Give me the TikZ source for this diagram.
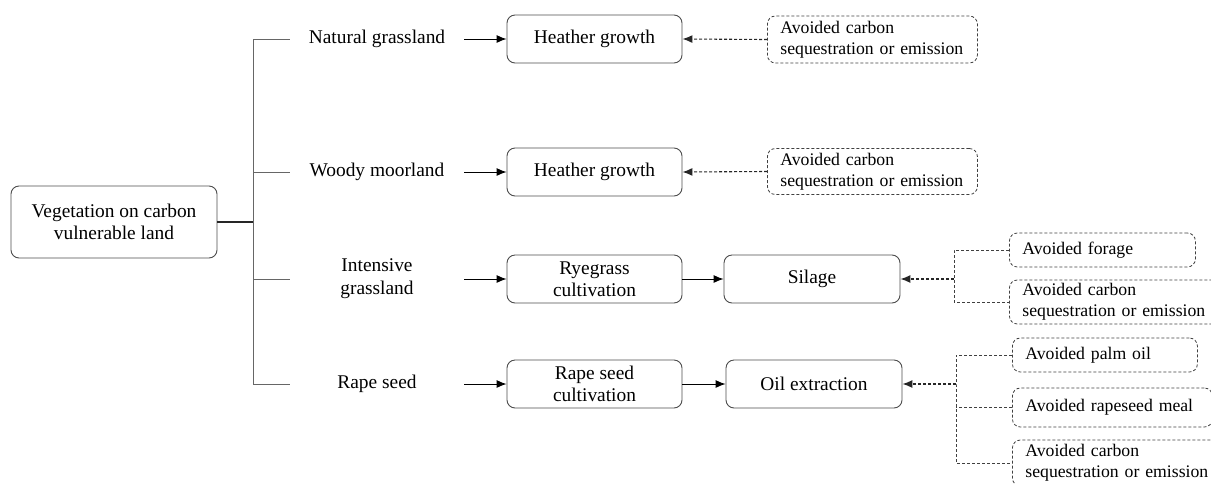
\documentclass[tikz,border=0pt]{standalone}
\usepackage{fontspec}
\setmainfont{Liberation Serif}
\newfontfamily\tnr{Liberation Serif}
\usetikzlibrary{arrows.meta}
\begin{document}
\begin{tikzpicture}[x=1pt,y=-1pt,
  box/.style={draw=black!70, rounded corners=8pt, line width=0.9pt, align=center,
    font=\tnr\fontsize{19.4}{22}\selectfont, inner sep=0pt},
  lbl/.style={align=center, font=\tnr\fontsize{19.4}{23}\selectfont, minimum width=174pt, inner sep=0pt},
  dbox/.style={draw=black!75, dash pattern=on 3pt off 2pt, rounded corners=8pt, line width=0.8pt,
    align=left, font=\tnr\fontsize{17.7}{21}\selectfont, inner xsep=13pt, inner ysep=0pt, anchor=west},
  arr/.style={-{Latex[length=10pt,width=8pt]}, line width=0.9pt},
  darr/.style={-{Latex[length=10pt,width=8pt]}, line width=1.1pt, dash pattern=on 3pt off 2pt, draw=black!85},
  dl/.style={line width=0.8pt, dash pattern=on 3pt off 2pt, draw=black!75},
  spine/.style={line width=1pt, draw=black!60}
]
\useasboundingbox (0,0) rectangle (1211,483);
\clip (0,0) rectangle (1211,483);

% root
\node[box, minimum width=206pt, minimum height=72pt] (root) at (114,222) {Vegetation on carbon\\vulnerable land};
\coordinate (sp) at (253,222);

% labels
\node[lbl] (l1) at (377,39) {Natural grassland};
\node[lbl] (l2) at (377,172) {Woody moorland};
\node[lbl] (l3) at (377,279) {Intensive\\grassland};
\node[lbl] (l4) at (377,384) {Rape seed};

\draw[line width=1.6pt, black!85] (root.east) -- (sp);
\draw[spine] (l1.west) -- (l1.west -| sp) -- (l4.west -| sp) -- (l4.west);
\draw[spine] (l2.west) -- (l2.west -| sp);
\draw[spine] (l3.west) -- (l3.west -| sp);

% process boxes
\node[box, minimum width=175pt, minimum height=48pt] (h1) at (594.5,39) {Heather growth};
\node[box, minimum width=175pt, minimum height=48pt] (h2) at (594.5,172) {Heather growth};
\node[box, minimum width=175pt, minimum height=48pt] (rye) at (594.5,279) {Ryegrass\\cultivation};
\node[box, minimum width=176pt, minimum height=48pt] (sil) at (812,279) {Silage};
\node[box, minimum width=175pt, minimum height=48pt] (rsc) at (594.5,384) {Rape seed\\cultivation};
\node[box, minimum width=176pt, minimum height=48pt] (oil) at (814,384) {Oil extraction};

\draw[arr] (l1.east) -- (h1.west);
\draw[arr] (l2.east) -- (h2.west);
\draw[arr] (l3.east) -- (rye.west);
\draw[arr] (l4.east) -- (rsc.west);
\draw[arr] (rye.east) -- (sil.west);
\draw[arr] (rsc.east) -- (oil.west);

% avoided boxes
\node[dbox, text width=184pt, minimum height=47pt] (a1) at (767,39.5) {Avoided carbon\\sequestration or emission};
\node[dbox, text width=184pt, minimum height=46pt] (a2) at (767,171.5) {Avoided carbon\\sequestration or emission};
\node[dbox, text width=160pt, minimum height=34pt] (forage) at (1009,250) {Avoided forage};
\node[dbox, text width=190pt, minimum height=44pt] (sc) at (1009,302) {Avoided carbon\\sequestration or emission};
\node[dbox, text width=159pt, minimum height=34pt] (palm) at (1012,355) {Avoided palm oil};
\node[dbox, text width=174pt, minimum height=39pt] (meal) at (1012,407.5) {Avoided rapeseed meal};
\node[dbox, text width=190pt, minimum height=46pt] (oc) at (1012,463) {Avoided carbon\\sequestration or emission};

\draw[darr] (a1.west) -- (h1.east);
\draw[darr] (a2.west) -- (h2.east);

\coordinate (sj) at (954,279);
\draw[dl] (forage.west) -| (sj) |- (sc.west);
\draw[darr] (sj) -- (sil.east);

\coordinate (oj) at (956,384);
\draw[dl] (palm.west) -| (oj) |- (oc.west);
\draw[dl] (meal.west) -- (meal.west -| oj);
\draw[darr] (oj) -- (oil.east);
\end{tikzpicture}
\end{document}
